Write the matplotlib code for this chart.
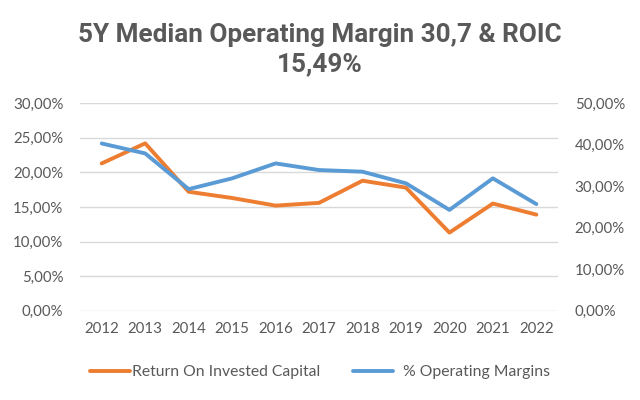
import matplotlib
matplotlib.use("Agg")
import matplotlib.pyplot as plt
from matplotlib.ticker import FuncFormatter

years = ["2012", "2013", "2014", "2015", "2016", "2017", "2018", "2019", "2020", "2021", "2022"]
roic = [21.3, 24.2, 17.2, 16.3, 15.2, 15.6, 18.8, 17.8, 11.3, 15.5, 13.9]
op_margin = [40.3, 37.9, 29.3, 31.9, 35.5, 33.9, 33.5, 30.7, 24.3, 31.9, 25.7]

title = "5Y Median Operating Margin 30,7 & ROIC\n15,49%"
orange = "#ED7D31"
blue = "#5B9BD5"
txt = "#595959"

plt.rcParams['font.family'] = ['Lato', 'DejaVu Sans']

def pct(v, pos):
    return ("%.2f%%" % v).replace(".", ",")

fig = plt.figure(figsize=(6.4, 4), dpi=100)
ax = fig.add_axes([0.125, 0.223, 0.747, 0.519])
ax2 = ax.twinx()

x = range(len(years))
l1, = ax.plot(x, roic, color=orange, lw=2.8, solid_capstyle='round', label="Return On Invested Capital")
l2, = ax2.plot(x, op_margin, color=blue, lw=2.8, solid_capstyle='round', label="  % Operating Margins")

ax.set_ylim(0, 30)
ax.set_yticks(range(0, 31, 5))
ax2.set_ylim(0, 50)
ax2.set_yticks(range(0, 51, 10))
ax.set_xlim(-0.5, 10.5)
ax.set_xticks(list(x))
ax.set_xticklabels(years)
ax.yaxis.set_major_formatter(FuncFormatter(pct))
ax2.yaxis.set_major_formatter(FuncFormatter(pct))

ax.grid(axis='y', color='#D9D9D9', lw=1)
ax.set_axisbelow(True)
for a in (ax, ax2):
    for s in a.spines.values():
        s.set_visible(False)
    a.tick_params(length=0, colors=txt, labelsize=10.8)
ax.tick_params(axis='y', pad=12)
ax2.tick_params(axis='y', pad=12)
ax.tick_params(axis='x', pad=8)

fig.text(0.5, 0.876, title, ha='center', va='center', fontsize=18.8, fontweight='bold',
         color=txt, family=['Roboto', 'DejaVu Sans'], linespacing=1.3)

fig.legend(handles=[l1, l2], loc='center', bbox_to_anchor=(0.5, 0.07), ncol=2, frameon=False,
           fontsize=11.3, labelcolor=txt, handlelength=2.55, handletextpad=0.15, columnspacing=2.1)

fig.savefig("out.png", dpi=100)
